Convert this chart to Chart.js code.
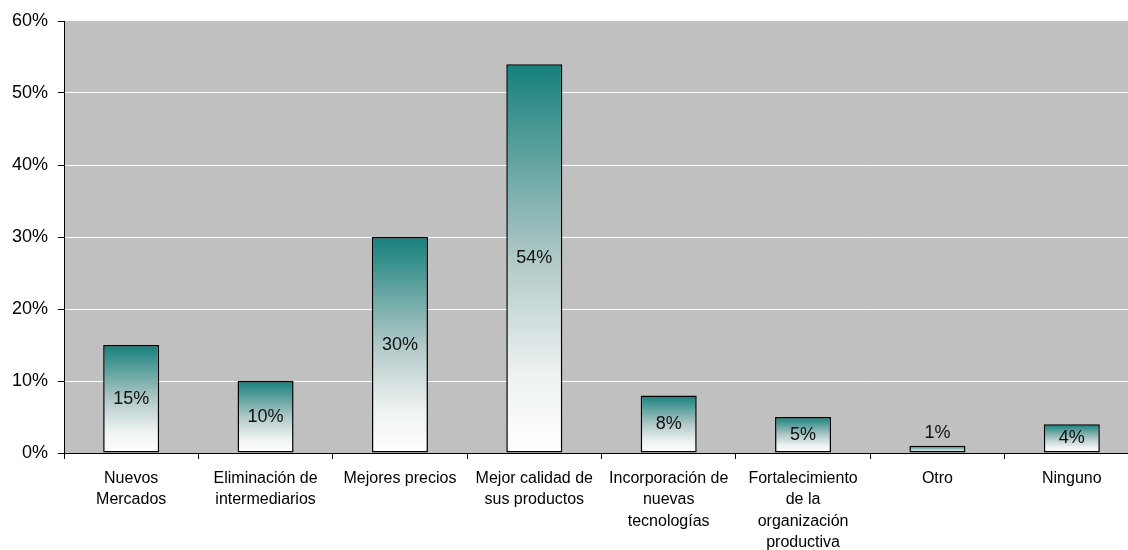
<!DOCTYPE html>
<html>
<head>
<meta charset="utf-8">
<script src="https://cdn.jsdelivr.net/npm/chart.js@4/dist/chart.umd.min.js"></script>
<style>
  html, body { margin: 0; padding: 0; background: #ffffff; overflow: hidden; }
  #wrap { width: 1128px; height: 550px; position: relative; overflow: hidden; }
  canvas { display: block; }
</style>
</head>
<body>
<div id="wrap"><canvas id="c" width="1140" height="550"></canvas></div>
<script>
const categories = [
  ["Nuevos", "Mercados"],
  ["Eliminación de", "intermediarios"],
  ["Mejores precios"],
  ["Mejor calidad de", "sus productos"],
  ["Incorporación de", "nuevas", "tecnologías"],
  ["Fortalecimiento", "de la", "organización", "productiva"],
  ["Otro"],
  ["Ninguno"]
];
const values = [15, 10, 30, 54, 8, 5, 1, 4];
const yTicks = [0, 10, 20, 30, 40, 50, 60];

const FONT = "'Liberation Sans', Arial, sans-serif";

const bgPlugin = {
  id: 'plotBg',
  beforeDraw(chart) {
    const a = chart.chartArea, ctx = chart.ctx;
    ctx.save();
    ctx.fillStyle = '#c0c0c0';
    ctx.fillRect(a.left, a.top, a.right - a.left, a.bottom - a.top);
    ctx.restore();
  }
};

const labelPlugin = {
  id: 'barLabels',
  afterDatasetsDraw(chart) {
    const ctx = chart.ctx;
    const meta = chart.getDatasetMeta(0);
    ctx.save();
    ctx.font = '18px ' + FONT;
    ctx.fillStyle = '#111';
    ctx.textAlign = 'center';
    ctx.textBaseline = 'middle';
    meta.data.forEach((bar, i) => {
      const h = bar.base - bar.y;
      let y = (bar.y + bar.base) / 2;
      if (h < 22) y = bar.y - 13;
      ctx.fillText(values[i] + '%', bar.x, y);
    });
    ctx.restore();
  }
};

function barGradient(context) {
  const chart = context.chart;
  const ys = chart.scales && chart.scales.y;
  if (!chart.chartArea || !ys || context.dataIndex === undefined) return '#5fa09d';
  const top = ys.getPixelForValue(values[context.dataIndex]);
  const base = ys.getPixelForValue(0);
  if (!isFinite(top) || !isFinite(base) || base - top < 1) return '#e8eeee';
  const g = chart.ctx.createLinearGradient(0, top, 0, base);
  g.addColorStop(0, '#15807b');
  g.addColorStop(0.5, '#b0c8c7');
  g.addColorStop(0.8, '#eef2f2');
  g.addColorStop(1, '#ffffff');
  return g;
}

new Chart(document.getElementById('c'), {
  type: 'bar',
  data: {
    labels: categories,
    datasets: [{
      data: values,
      backgroundColor: barGradient,
      borderColor: '#000000',
      borderWidth: 1.5,
      borderSkipped: false,
      barPercentage: 0.417,
      categoryPercentage: 1.0
    }]
  },
  options: {
    responsive: false,
    animation: false,
    devicePixelRatio: 1,
    layout: { padding: { top: 21, right: 1, left: 0, bottom: 0 } },
    plugins: {
      legend: { display: false },
      tooltip: { enabled: false }
    },
    scales: {
      x: {
        offset: true,
        grid: {
          offset: true,
          drawOnChartArea: false,
          drawTicks: true,
          tickLength: 6,
          tickColor: '#000000'
        },
        border: { display: true, color: '#000000', width: 1 },
        ticks: {
          font: { size: 16, family: FONT, lineHeight: 1.33 },
          color: '#000000',
          maxRotation: 0,
          autoSkip: false,
          padding: 9
        },
        afterFit(scale) { scale.height = 97; }
      },
      y: {
        min: 0,
        max: 60,
        afterBuildTicks(scale) { scale.ticks = yTicks.map(v => ({ value: v })); },
        grid: {
          color: ctx => (ctx.tick && (ctx.tick.value === 0 || ctx.tick.value === 60)) ? 'rgba(0,0,0,0)' : '#ffffff',
          lineWidth: 1,
          drawTicks: true,
          tickLength: 6,
          tickColor: '#000000'
        },
        border: { display: true, color: '#000000', width: 1 },
        ticks: {
          font: { size: 18, family: FONT },
          color: '#000000',
          padding: 10,
          callback: v => v + '%'
        },
        afterFit(scale) { scale.width = 64; }
      }
    }
  },
  plugins: [bgPlugin, labelPlugin]
});
</script>
</body>
</html>
